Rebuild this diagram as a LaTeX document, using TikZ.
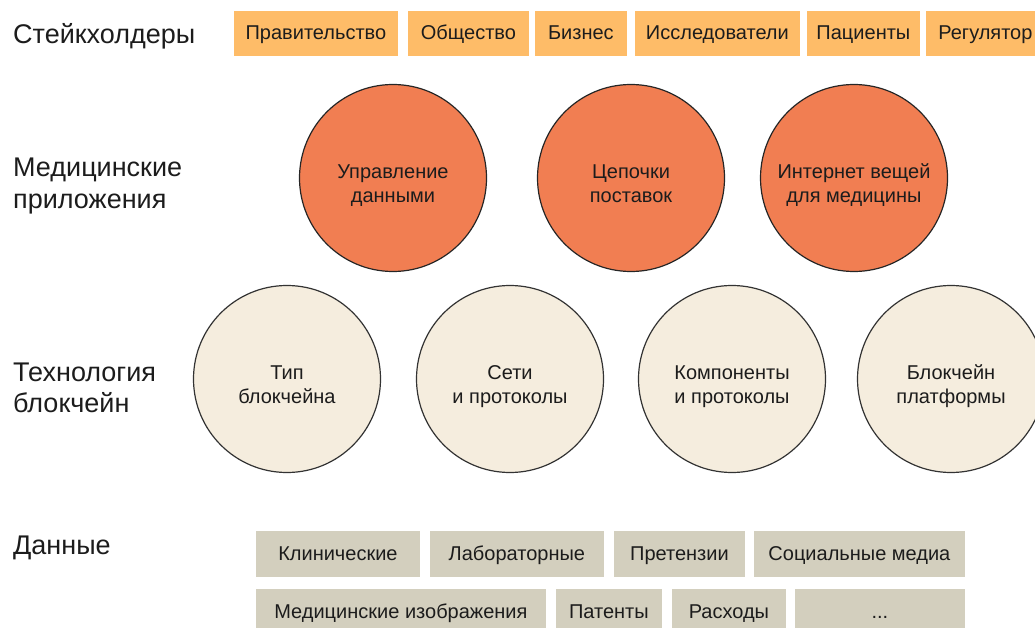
\documentclass[tikz,border=0pt]{standalone}
\usepackage{fontspec}
\setmainfont{Liberation Sans}
\definecolor{stakeorange}{RGB}{254,188,104}
\definecolor{apporange}{RGB}{241,126,82}
\definecolor{techcream}{RGB}{245,237,222}
\definecolor{datagray}{RGB}{211,207,190}
\definecolor{inkgray}{RGB}{28,28,28}
\begin{document}
\begin{tikzpicture}[x=1pt, y=-1pt,
    every node/.style={text=inkgray, font=\fontsize{20}{24}\selectfont},
    rowlabel/.style={anchor=west, align=left, inner sep=0pt, font=\fontsize{27}{31.5}\selectfont},
    stakebox/.style={anchor=west, fill=stakeorange, draw=white, line width=0.8pt, minimum height=46, inner sep=0pt, text height=14, text depth=0},
    databox/.style={anchor=west, fill=datagray, draw=white, line width=0.8pt, minimum height=47, inner sep=0pt, text height=14, text depth=0},
    appcircle/.style={circle, fill=apporange, draw=black!85, line width=1.2pt, minimum size=187, inner sep=0pt, align=center, text height=60, text depth=11},
    techcircle/.style={circle, fill=techcream, draw=black!80, line width=1.2pt, minimum size=187, inner sep=0pt, align=center, text height=60, text depth=11}]
	\useasboundingbox (0,0) rectangle (1035,628);
	\clip (0,0) rectangle (1035,628);
	
	% 1. 左侧行标题
	\node[rowlabel] (lblstake) at (13,36) {Стейкхолдеры};
	\node[rowlabel] (lblapp) at (13,186) {Медицинские\\приложения};
	\node[rowlabel] (lbltech) at (13,388) {Технология\\блокчейн};
	\node[rowlabel] (lbldata) at (13,548) {Данные};
	
	% 2. 利益相关方
	\node[stakebox, minimum width=165] (gov) at (233,33) {Правительство};
	\node[stakebox, minimum width=122] (society) at (407,33) {Общество};
	\node[stakebox, minimum width=93] (business) at (534,33) {Бизнес};
	\node[stakebox, minimum width=166] (research) at (634,33) {Исследователи};
	\node[stakebox, minimum width=114] (patients) at (806,33) {Пациенты};
	\node[stakebox, minimum width=120] (regulator) at (925,33) {Регулятор};
	
	% 3. 医疗应用
	\node[appcircle] (datamgmt) at (393,178) {Управление\\данными};
	\node[appcircle] (supply) at (631,178) {Цепочки\\поставок};
	\node[appcircle] (iomt) at (854,178) {Интернет вещей\\для медицины};
	
	% 4. 区块链技术
	\node[techcircle] (chaintype) at (287,379) {Тип\\блокчейна};
	\node[techcircle] (networks) at (510,379) {Сети\\и протоколы};
	\node[techcircle] (components) at (732,379) {Компоненты\\и протоколы};
	\node[techcircle] (platforms) at (951,379) {Блокчейн\\платформы};
	
	% 5. 数据
	\node[databox, minimum width=165] (clinical) at (255,553.5) {Клинические};
	\node[databox, minimum width=175] (lab) at (429,553.5) {Лабораторные};
	\node[databox, minimum width=132] (claims) at (613,553.5) {Претензии};
	\node[databox, minimum width=212] (social) at (753,553.5) {Социальные медиа};
	\node[databox, minimum width=291] (imaging) at (255,611.5) {Медицинские изображения};
	\node[databox, minimum width=107] (patents) at (555,611.5) {Патенты};
	\node[databox, minimum width=115] (costs) at (671,611.5) {Расходы};
	\node[databox, minimum width=171] (more) at (794,611.5) {...};
\end{tikzpicture}
\end{document}
